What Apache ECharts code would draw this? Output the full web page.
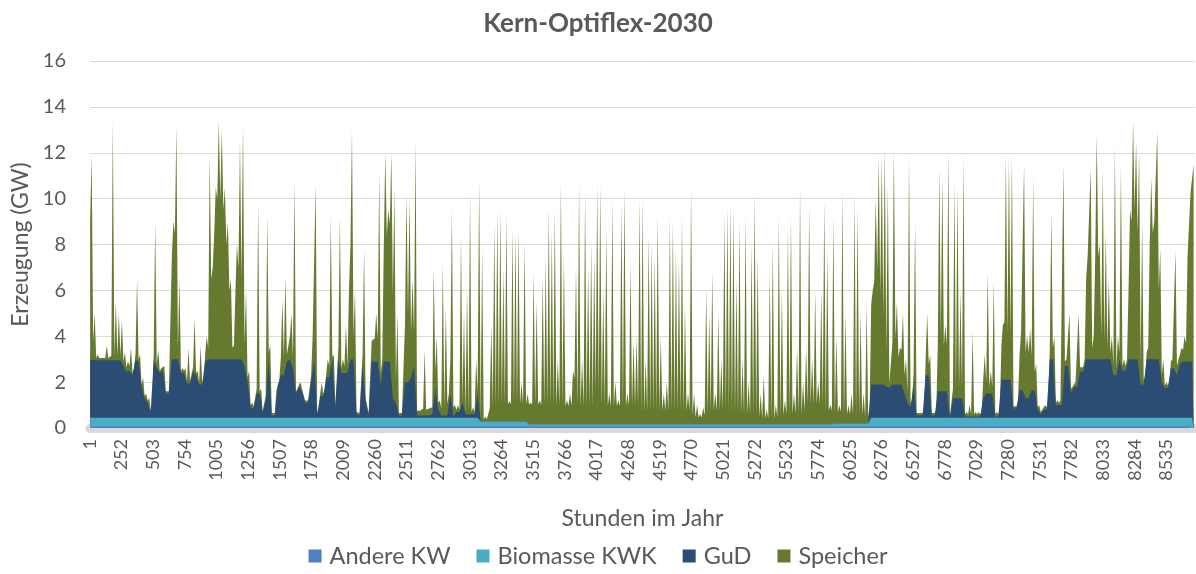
<!DOCTYPE html>
<html>
<head>
<meta charset="utf-8">
<title>Kern-Optiflex-2030</title>
<script src="https://cdn.jsdelivr.net/npm/echarts@6/dist/echarts.min.js"></script>
<style>
  html, body { margin: 0; padding: 0; background: #fff; }
  #chart { width: 1196px; height: 574px; }
</style>
</head>
<body>
<div id="chart"></div>
<script>
const andereKW = 0.06
// Biomasse KWK: [ab Tag, Leistung]
const biomasseStufen = [[0, 0.39], [129, 0.22], [145, 0.1], [246, 0.14], [258, 0.39]]

const gud = [
  // Tag 0-29
  2.55, 2.5, 2.5, 2.5, 2.5, 2.5, 2.5, 2.5, 2.5, 2.5, 2.5, 2.25, 2.0, 2.05, 1.85, 2.5, 2.45, 1.35, 0.85, 0.65, 0.25, 2.5, 2.15, 1.95, 2.05, 1.05, 1.05, 2.55, 2.55, 2.55,
  // 30-59
  1.95, 1.95, 1.5, 1.5, 2.0, 1.85, 1.45, 1.45, 2.45, 2.55, 2.55, 2.55, 2.55, 2.55, 2.55, 2.55, 2.55, 2.55, 2.55, 2.55, 2.55, 2.25, 1.55, 0.45, 0.4, 1.05, 1.05, 0.2, 0.75, 2.55,
  // 60-90
  0.1, 0.1, 1.35, 1.85, 1.85, 2.45, 2.55, 2.15, 1.05, 1.35, 1.15, 0.65, 0.65, 1.55, 2.55, 0.15, 0.95, 0.95, 1.75, 1.75, 2.55, 0.45, 2.55, 1.95, 1.95, 1.95, 2.55, 2.55, 0.15, 0.1, 2.3,
  // 91-120
  0.75, 0.1, 2.45, 2.45, 2.45, 1.45, 2.45, 2.45, 2.45, 0.85, 0.65, 0.1, 0.1, 1.55, 1.55, 1.75, 2.25, 0.1, 0.1, 0.1, 0.1, 0.1, 0.15, 1.25, 0.35, 0.1, 0.1, 0.1, 1.05, 0.05,
  // 121-150
  0.25, 0.25, 0.65, 0.15, 0.15, 0.15, 0.15, 1.05, 0, 0, 0, 0, 0, 0, 0, 0, 0, 0, 0, 0, 0, 0, 0, 0, 0, 0, 0, 0, 0, 0,
  // 151-181
  0, 0, 0, 0, 0, 0, 0, 0, 0, 0, 0, 0, 0, 0, 0, 0, 0, 0, 0, 0, 0, 0, 0, 0, 0, 0, 0, 0, 0, 0, 0,
  // 182-211
  0, 0, 0, 0, 0, 0, 0, 0, 0, 0, 0, 0, 0, 0, 0, 0, 0, 0, 0, 0, 0, 0, 0, 0, 0, 0, 0, 0, 0, 0,
  // 212-242
  0, 0, 0, 0, 0, 0, 0, 0, 0, 0, 0, 0, 0, 0, 0, 0, 0, 0, 0, 0, 0, 0, 0, 0, 0, 0, 0, 0, 0, 0, 0,
  // 243-257
  0, 0, 0, 0, 0, 0, 0, 0, 0, 0, 0, 0, 0, 0, 0,
  // 258-272
  1.45, 1.45, 1.45, 1.45, 1.45, 1.35, 1.3, 1.45, 1.45, 1.45, 1.45, 1.05, 0.65, 0.45, 1.45,
  // 273-303
  0.1, 0.1, 0.1, 1.85, 1.85, 0.1, 0.1, 1.15, 1.15, 1.15, 1.15, 0, 0.85, 0.85, 0.85, 0.85, 0.05, 0.05, 0.05, 0.05, 0.05, 0.05, 0.85, 1.05, 1.05, 1.05, 0.05, 0.05, 1.65, 1.65, 1.65,
  // 304-333
  1.65, 0.4, 0.4, 1.2, 1.2, 0.85, 0.85, 1.2, 1.2, 0.35, 0.15, 0.35, 0.35, 2.55, 2.55, 0.55, 0.55, 0.55, 2.25, 2.25, 1.05, 1.35, 1.35, 2.0, 2.0, 2.55, 2.55, 2.55, 2.55, 2.55,
  // 334-364
  2.55, 2.55, 2.55, 2.55, 1.85, 1.85, 2.55, 2.05, 2.05, 2.55, 2.55, 2.55, 2.55, 1.45, 1.45, 2.55, 2.55, 2.55, 2.55, 2.55, 1.55, 1.3, 1.3, 2.15, 2.15, 1.85, 2.35, 2.45, 2.45, 2.45, 2.45
]

// Speicher: Tagesspitze
const speicherSpitze = [
  8.9, 2.05, 0.25, 0.15, 0.15, 0.65, 0.15, 10.45, 2.55, 2.05, 1.75, 0.6, 0.45, 1.0, 0.3, 3.55, 0.3, 0.4, 0.2, 0.2, 0.3, 6.05, 0.8, 0.2, 0.2, 0.1, 0.1, 6.0, 10.2, 3.5,
  0.2, 0.2, 1.55, 0.15, 2.35, 0.2, 1.7, 0.2, 1.1, 8.9, 4.0, 7.5, 10.4, 10.0, 7.5, 6.0, 3.5, 0.6, 5.0, 9.5, 10.3, 3.3, 0.5, 0.2, 0.15, 8.3, 0.2, 0.15, 8.1, 0.6,
  0.1, 1.05, 0.3, 3.3, 4.3, 0.7, 2.0, 8.2, 0.2, 0.2, 0.1, 0.1, 0.1, 2.0, 7.6, 0.2, 0.6, 0.2, 0.8, 7.0, 0.2, 0.1, 6.2, 0.6, 2.1, 3.6, 10.0, 3.0, 0.1, 0.15, 5.05,
  0.1, 0.1, 0.9, 2.1, 8.3, 1.1, 9.1, 6.6, 9.1, 9.2, 3.9, 0.1, 0.1, 8.2, 8.0, 4.3, 9.8, 0.25, 0.25, 2.85, 0.25, 0.35, 6.4, 2.3, 0.4, 6.65, 4.65, 0.95, 8.0, 0.5,
  0.3, 7.7, 3.9, 5.4, 9.6, 0.3, 2.4, 9.4, 7.55, 0.22, 0.32, 4.2, 8.6, 9.2, 9.3, 6.7, 9.1, 0.9, 8.4, 8.3, 8.4, 1.7, 7.8, 1.2, 0.95, 6.65, 5.35, 1.05, 6.45, 7.35,
  9.45, 8.35, 9.35, 2.85, 10.55, 7.35, 1.05, 1.35, 2.35, 6.85, 10.55, 2.85, 10.05, 6.85, 7.85, 7.35, 10.45, 10.45, 5.85, 8.55, 1.35, 9.75, 1.85, 1.05, 9.65, 10.35, 1.35, 7.05, 3.65, 3.85, 9.85,
  9.85, 2.85, 8.25, 7.85, 7.35, 9.15, 3.85, 1.35, 1.85, 9.05, 8.85, 7.65, 7.15, 9.05, 5.15, 1.35, 10.25, 1.35, 0.85, 0.45, 0.75, 5.95, 4.85, 6.65, 1.35, 4.85, 2.85, 9.15, 9.45, 9.65,
  9.45, 6.35, 8.85, 2.85, 9.05, 1.85, 7.85, 10.05, 7.35, 1.35, 2.15, 0.65, 6.65, 7.85, 0.85, 9.05, 5.85, 1.05, 8.55, 9.05, 1.35, 3.35, 10.35, 1.85, 3.35, 9.55, 2.85, 5.85, 1.85, 5.85, 9.75,
  7.55, 0.85, 9.05, 3.8, 0.8, 10.1, 4.8, 0.8, 1.3, 9.9, 9.4, 4.8, 1.3, 5.2, 0.8,
  4.1, 8.1, 9.9, 9.9, 10.3, 8.8, 0.25, 10.3, 3.6, 1.6, 3.1, 1.5, 10.8, 0.3, 7.1,
  0.15, 0.15, 0.25, 2.7, 0.9, 0.15, 0.25, 9.7, 9.4, 2.9, 10.5, 0.15, 9.4, 9.2, 4.7, 10.6, 0.2, 0.5, 3.7, 0.2, 0.2, 0.2, 1.9, 5.3, 1.0, 4.9, 0.2, 0.3, 2.4, 9.8, 9.7,
  9.8, 0.15, 0.35, 2.55, 9.85, 2.7, 3.0, 9.25, 1.15, 0.2, 0.2, 0.2, 0.4, 6.4, 1.0, 0.2, 0.2, 10.5, 0.3, 2.3, 0.3, 0.2, 3.2, 0.25, 0.55, 4.5, 8.3, 1.0, 9.8, 5.0,
  8.3, 5.5, 3.5, 1.0, 10.0, 1.7, 8.5, 0.5, 0.5, 6.5, 10.4, 9.5, 9.0, 7.1, 0.3, 0.5, 7.9, 6.0, 9.9, 4.8, 1.0, 0.25, 0.25, 0.4, 5.1, 0.7, 0.7, 1.1, 4.6, 7.4, 8.6
]

// Speicher: Sockel zwischen den Spitzen (Tagesbeginn)
const speicherSockel = [
  6, 0.8, 0.1, 0.1, 0.1, 0.1, 0.1, 0.2, 0.2, 0.2, 0.2, 0.2, 0.2, 0.2, 0.1, 0.3, 0.1, 0.1, 0.1, 0.1, 0.1, 0.3, 0.2, 0.1, 0.1, 0.1, 0.1, 4.5, 5.5, 0.5,
  0.1, 0.1, 0.1, 0.1, 0.2, 0.1, 0.1, 0.1, 0.3, 0.5, 3.5, 5.5, 7.0, 7.0, 6.5, 5.0, 3.0, 0.5, 3.0, 4.0, 3.5, 1.0, 0.2, 0.1, 0.1, 0.2, 0.1, 0.1, 0.2, 0.3,
  0.1, 0.1, 0.1, 0.8, 0.8, 0.3, 1.0, 0.5, 0.1, 0.1, 0.1, 0.1, 0.1, 0.3, 1.0, 0.1, 0.1, 0.1, 0.2, 0.5, 0.1, 0.1, 0.5, 0.2, 0.3, 0.3, 5.0, 1.0, 0.1, 0.1, 0.5,
  0.1, 0.1, 0.9, 1.0, 1.0, 0.5, 5.0, 5.5, 6.0, 4.5, 1.0, 0.1, 0.1, 2.5, 3.0, 2.0, 1.5, 0.2, 0.2, 0.3, 0.25, 0.3, 0.3, 0.8, 0.3, 0.3, 0.3, 0.5, 1.5, 0.4,
  0.1, 0.1, 0.1, 0.1, 0.1, 0.1, 0.1, 0.1, 0.2, 0.1, 0.1, 0.6, 0.7, 0.7, 0.75, 0.75, 0.75, 0.75, 0.75, 0.75, 0.75, 0.75, 0.75, 0.75, 0.85, 0.85, 0.85, 0.85, 0.85, 0.85,
  0.8, 0.8, 0.8, 0.8, 0.8, 0.8, 0.8, 0.8, 0.8, 2.0, 0.8, 0.8, 0.8, 0.8, 0.8, 0.8, 1.5, 1.5, 0.8, 0.8, 0.8, 0.8, 0.8, 0.8, 0.8, 0.8, 0.8, 0.8, 0.8, 0.8, 0.8,
  0.6, 0.6, 0.6, 0.6, 0.6, 0.6, 0.6, 0.6, 0.6, 0.6, 0.6, 0.6, 0.6, 0.6, 0.6, 0.6, 0.6, 0.4, 0.3, 0.3, 0.3, 0.4, 0.5, 0.6, 0.6, 0.6, 0.6, 0.6, 0.6, 0.6,
  0.45, 0.45, 0.45, 0.45, 0.45, 0.45, 0.45, 0.45, 0.4, 0.3, 0.25, 0.25, 0.25, 0.25, 0.25, 0.3, 0.3, 0.4, 0.45, 0.45, 0.45, 0.45, 0.45, 0.45, 0.6, 0.9, 0.9, 0.9, 0.9, 0.9, 0.9,
  0.6, 0.6, 0.6, 0.5, 0.5, 0.5, 0.4, 0.4, 0.4, 0.4, 0.4, 0.4, 0.4, 0.3, 0.3,
  3.5, 4.5, 5.0, 4.0, 3.0, 1.5, 0.2, 1.8, 2.0, 1.2, 1.5, 0.8, 0.5, 0.2, 0.5,
  0.1, 0.1, 0.1, 0.8, 0.5, 0.1, 0.1, 2.0, 2.5, 2.0, 2.0, 0.1, 0.4, 0.4, 0.4, 0.4, 0.1, 0.1, 0.1, 0.1, 0.1, 0.1, 0.8, 0.5, 0.3, 0.3, 0.1, 0.1, 1.5, 2.5, 2.0,
  2.0, 0.1, 0.1, 1.5, 2.5, 2.0, 2.0, 1.5, 0.8, 0.1, 0.1, 0.1, 0.1, 0.5, 0.5, 0.1, 0.1, 0.2, 0.2, 0.3, 0.2, 0.1, 0.2, 0.2, 0.2, 3.5, 4.5, 0.5, 4.5, 4.5,
  1.0, 0.8, 0.5, 0.3, 0.5, 0.3, 0.3, 0.2, 0.2, 3.0, 6.0, 6.5, 5.5, 1.0, 0.2, 0.3, 5.0, 5.5, 6.0, 3.0, 0.3, 0.1, 0.1, 0.3, 0.4, 0.4, 0.4, 0.5, 0.8, 6.0, 7.4
]

if (gud.length !== 365 || speicherSpitze.length !== 365 || speicherSockel.length !== 365) {
  throw new Error('Tage: ' + gud.length + ' / ' + speicherSpitze.length + ' / ' + speicherSockel.length)
}

function biomasseAm(tag) {
  let wert = biomasseStufen[0][1]
  biomasseStufen.forEach(([ab, w]) => { if (tag >= ab) wert = w })
  return wert
}

// je Tag zwei Stützstellen: Tagesbeginn (Sockel) und Tagesmitte (Spitze).
// Gestapelt wird von Hand: jede Reihe ist die Summe bis einschließlich ihrer Ebene,
// die Flächen liegen übereinander (Speicher hinten, Andere KW vorn).
const summeAndere = []
const summeBio = []
const summeGud = []
const summeSpeicher = []
gud.forEach((g, tag) => {
  const bio = biomasseAm(tag)
  const stellen = [[tag * 24 + 1, speicherSockel[tag]], [tag * 24 + 13, speicherSpitze[tag]]]
  stellen.forEach(([h, sp]) => {
    const a = andereKW
    const b = a + bio
    const c = b + g
    summeAndere.push([h, a])
    summeBio.push([h, b])
    summeGud.push([h, c])
    summeSpeicher.push([h, c + sp])
  })
})

const font = 'Lato, "Open Sans", sans-serif'
const textColor = '#595959'

function areaSeries(name, color, data, z) {
  return {
    name,
    type: 'line',
    data,
    z,
    symbol: 'none',
    silent: true,
    itemStyle: { color },
    lineStyle: { width: 0 },
    areaStyle: { color, opacity: 1, origin: 'start' }
  }
}

const chart = echarts.init(document.getElementById('chart'))
chart.setOption({
  animation: false,
  textStyle: { fontFamily: font },
  title: {
    text: 'Kern-Optiflex-2030',
    left: 'center',
    top: 6,
    textStyle: { fontFamily: font, fontSize: 26, fontWeight: 'bold', color: textColor }
  },
  legend: {
    bottom: 1,
    left: 'center',
    icon: 'rect',
    itemWidth: 13,
    itemHeight: 13,
    itemGap: 26,
    textStyle: { fontFamily: font, fontSize: 23.5, color: textColor, padding: [0, 0, 0, 3] },
    data: ['Andere KW', 'Biomasse KWK', 'GuD', 'Speicher']
  },
  grid: { left: 90, right: 1, top: 61, bottom: 146 },
  xAxis: {
    type: 'value',
    min: 0,
    max: 8760,
    interval: 251,
    offset: 5,
    name: 'Stunden im Jahr',
    nameLocation: 'middle',
    nameGap: 74,
    nameTextStyle: { fontFamily: font, fontSize: 23, color: textColor },
    axisLine: { lineStyle: { color: '#d9d9d9', width: 9 } },
    axisTick: { show: false },
    splitLine: { show: false },
    axisLabel: {
      rotate: 90,
      margin: 6,
      showMaxLabel: false,
      fontFamily: font,
      fontSize: 18,
      color: textColor,
      formatter: v => String(v + 1)
    }
  },
  yAxis: {
    type: 'value',
    min: 0,
    max: 16,
    interval: 2,
    name: 'Erzeugung (GW)',
    nameLocation: 'middle',
    nameGap: 58,
    nameTextStyle: { fontFamily: font, fontSize: 23, color: textColor },
    axisLine: { show: false },
    axisTick: { show: false },
    axisLabel: { margin: 24, fontFamily: font, fontSize: 20, color: textColor },
    splitLine: { lineStyle: { color: '#d9d9d9', width: 1 } }
  },
  series: [
    areaSeries('Speicher', '#667a2f', summeSpeicher, 2),
    areaSeries('GuD', '#2c4d73', summeGud, 3),
    areaSeries('Biomasse KWK', '#4bacc6', summeBio, 4),
    areaSeries('Andere KW', '#4f81bd', summeAndere, 5)
  ]
})
</script>
</body>
</html>
